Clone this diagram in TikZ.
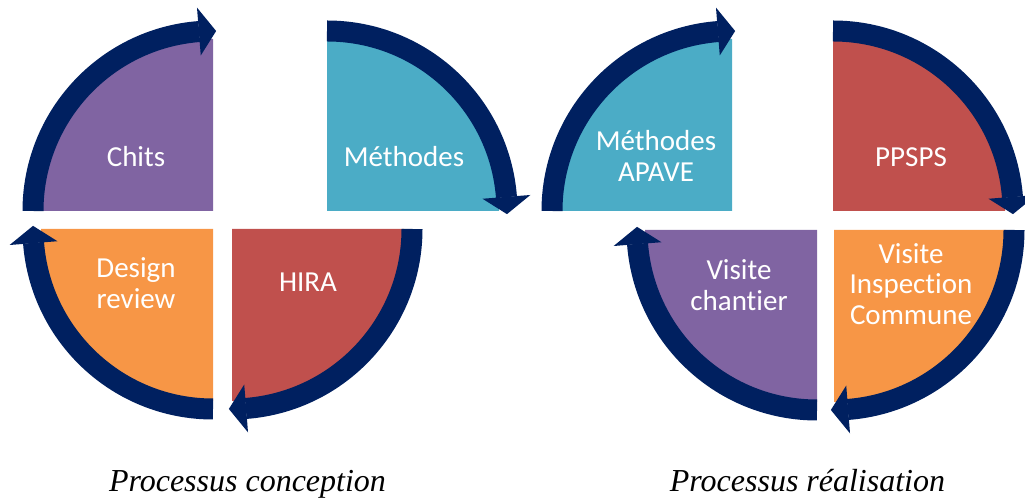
\documentclass[tikz,border=0pt]{standalone}
\usepackage{fontspec}
\setmainfont{Carlito}[Ligatures=NoCommon]
\newfontfamily\capfont{Liberation Serif}
\definecolor{cpurple}{HTML}{8064A2}
\definecolor{cteal}{HTML}{4BACC6}
\definecolor{cred}{HTML}{C0504D}
\definecolor{corange}{HTML}{F79646}
\definecolor{cnavy}{HTML}{002060}
\tikzset{
  band/.style={draw=cnavy, line width=21pt, line cap=butt},
  headtri/.style={fill=cnavy},
  lbl/.style={text=white, align=center, inner sep=0pt, font=\fontsize{29}{30.5}\selectfont},
  captext/.style={anchor=base, inner sep=0pt, font=\capfont\itshape\fontsize{32}{34}\selectfont}
}
% quarter: #1 colour, #2 center, #3 start angle (arrow start), fill from #3-90 to #3
\newcommand{\quarterarrow}[3]{%
  \fill[#1, shift={#2}] (0,0) -- (#3:172) arc[start angle=#3, end angle=#3-90, radius=172] -- cycle;
  \draw[band, shift={#2}] (#3:180) arc[start angle=#3, end angle=#3-85.6, radius=180];
  \fill[headtri, shift={#2}] (#3-85.5:204) -- (#3-91:180) -- (#3-85.5:156) -- cycle;
}
\begin{document}
\begin{tikzpicture}[x=1pt,y=1pt]
\useasboundingbox (0,0) rectangle (1025,502);
% left cycle
\quarterarrow{cpurple}{(213,291)}{180}
\quarterarrow{cteal}{(327,291)}{90}
\quarterarrow{corange}{(213,273)}{270}
\quarterarrow{cred}{(232,273)}{360}
% right cycle
\quarterarrow{cteal}{(732,291)}{180}
\quarterarrow{cred}{(833,291)}{90}
\quarterarrow{cpurple}{(817,272)}{270}
\quarterarrow{corange}{(834,272)}{360}
% labels
\node[lbl] (chits) at (136,345) {Chits};
\node[lbl] (meth) at (404,345) {Méthodes};
\node[lbl] (design) at (136,219) {Design\\review};
\node[lbl] (hira) at (308,220) {HIRA};
\node[lbl] (apave) at (656,346) {Méthodes\\APAVE};
\node[lbl] (ppsps) at (911,345) {PPSPS};
\node[lbl] (visite) at (739,217) {Visite\\chantier};
\node[lbl] (vic) at (911,218) {Visite\\Inspection\\Commune};
% captions
\node[captext] (c1) at (247.5,10) {Processus conception};
\node[captext] (c2) at (807.5,10) {Processus réalisation};
\end{tikzpicture}
\end{document}
